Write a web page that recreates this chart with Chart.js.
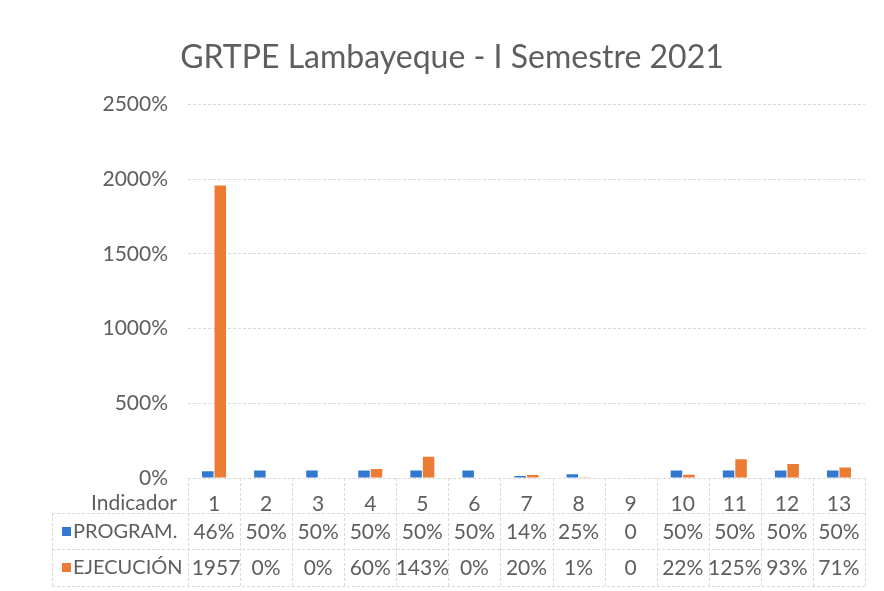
<!DOCTYPE html>
<html>
<head>
<meta charset="utf-8">
<script src="https://cdn.jsdelivr.net/npm/chart.js@4"></script>
<style>
  html, body { margin: 0; padding: 0; background: #fff; }
  #wrap { width: 884px; height: 591px; }
</style>
</head>
<body>
<div id="wrap"><canvas id="grafico"></canvas></div>
<script>
const indicadores = ['1','2','3','4','5','6','7','8','9','10','11','12','13'];
const programado = [46, 50, 50, 50, 50, 50, 14, 25, 0, 50, 50, 50, 50];
const ejecucion = [1957, 0, 0, 60, 143, 0, 20, 1, 0, 22, 125, 93, 71];
const etiquetasProg = ['46%','50%','50%','50%','50%','50%','14%','25%','0','50%','50%','50%','50%'];
const etiquetasEjec = ['1957','0%','0%','60%','143%','0%','20%','1%','0','22%','125%','93%','71%'];
const ticksY = [0, 500, 1000, 1500, 2000, 2500];

const colorProg = '#3277d0';
const colorEjec = '#ec7b34';
const gris = '#5e5e5e';
const linea = '#d9d9d9';
const fuente = 'Lato, "Open Sans", sans-serif';

// tabla de datos debajo del eje
const tablaDatos = {
  id: 'tablaDatos',
  afterDraw(chart) {
    const ctx = chart.ctx;
    const x = chart.scales.x;
    const area = chart.chartArea;
    const ancho = (area.right - area.left) / indicadores.length;
    const filaTop = 513, fila2 = 549, filaBot = 586, izq = 52;
    ctx.save();
    ctx.strokeStyle = linea;
    ctx.lineWidth = 1;
    ctx.setLineDash([3, 2]);
    // horizontales
    [filaTop, fila2, filaBot].forEach(y => {
      ctx.beginPath();
      ctx.moveTo(izq, y + 0.5);
      ctx.lineTo(area.right, y + 0.5);
      ctx.stroke();
    });
    // verticales
    for (let i = 0; i <= indicadores.length; i++) {
      const px = Math.round(area.left + i * ancho) + 0.5;
      ctx.beginPath();
      ctx.moveTo(px, area.bottom);
      ctx.lineTo(px, filaBot);
      ctx.stroke();
    }
    ctx.beginPath();
    ctx.moveTo(izq + 0.5, filaTop);
    ctx.lineTo(izq + 0.5, filaBot);
    ctx.stroke();
    ctx.setLineDash([]);

    ctx.fillStyle = gris;
    ctx.font = '21px ' + fuente;
    ctx.textBaseline = 'middle';
    ctx.textAlign = 'right';
    ctx.fillText('Indicador', 177, 503);

    // leyenda en la tabla
    ctx.textAlign = 'left';
    ctx.fillStyle = colorProg;
    ctx.fillRect(62, 527, 9, 9);
    ctx.fillStyle = colorEjec;
    ctx.fillRect(62, 563, 9, 9);
    ctx.fillStyle = gris;
    ctx.font = '20px ' + fuente;
    ctx.fillText('PROGRAM.', 73, 532);
    ctx.fillText('EJECUCIÓN', 73, 568);

    ctx.font = '21px ' + fuente;
    ctx.textAlign = 'center';
    indicadores.forEach((c, i) => {
      const cx = x.getPixelForValue(i);
      ctx.fillText(etiquetasProg[i], cx, 532);
      ctx.fillText(etiquetasEjec[i], cx + (i === 0 ? 2 : 0), 568);
    });
    ctx.restore();
  }
};

const ctx = document.getElementById('grafico').getContext('2d');
const grafico = new Chart(ctx, {
  type: 'bar',
  data: {
    labels: indicadores,
    datasets: [{
      label: 'PROGRAM.',
      data: programado,
      backgroundColor: colorProg
    }, {
      label: 'EJECUCIÓN',
      data: ejecucion,
      backgroundColor: colorEjec
    }]
  },
  options: {
    responsive: true,
    maintainAspectRatio: false,
    animation: false,
    datasets: {
      bar: { categoryPercentage: 0.48, barPercentage: 0.92 }
    },
    layout: { padding: { top: 0, right: 19, bottom: 0, left: 39 } },
    plugins: {
      legend: { display: false },
      tooltip: { enabled: false },
      title: {
        display: true,
        text: 'GRTPE Lambayeque - I Semestre 2021',
        color: gris,
        font: { family: fuente, size: 32, weight: 'normal' },
        padding: { top: 38, bottom: 28 }
      }
    },
    scales: {
      x: {
        grid: { display: false },
        border: { display: false },
        ticks: {
          color: gris,
          font: { family: fuente, size: 21 },
          padding: 6
        },
        afterFit(scale) { scale.height = 113; }
      },
      y: {
        min: 0,
        max: 2500,
        afterBuildTicks(scale) { scale.ticks = ticksY.map(v => ({ value: v })); },
        grid: { color: linea, drawTicks: false },
        border: { display: false, dash: [3, 2] },
        ticks: {
          color: gris,
          font: { family: fuente, size: 21 },
          padding: 20,
          callback: v => v + '%'
        },
        afterFit(scale) { scale.width = 149; }
      }
    }
  },
  plugins: [tablaDatos]
});
</script>
</body>
</html>
